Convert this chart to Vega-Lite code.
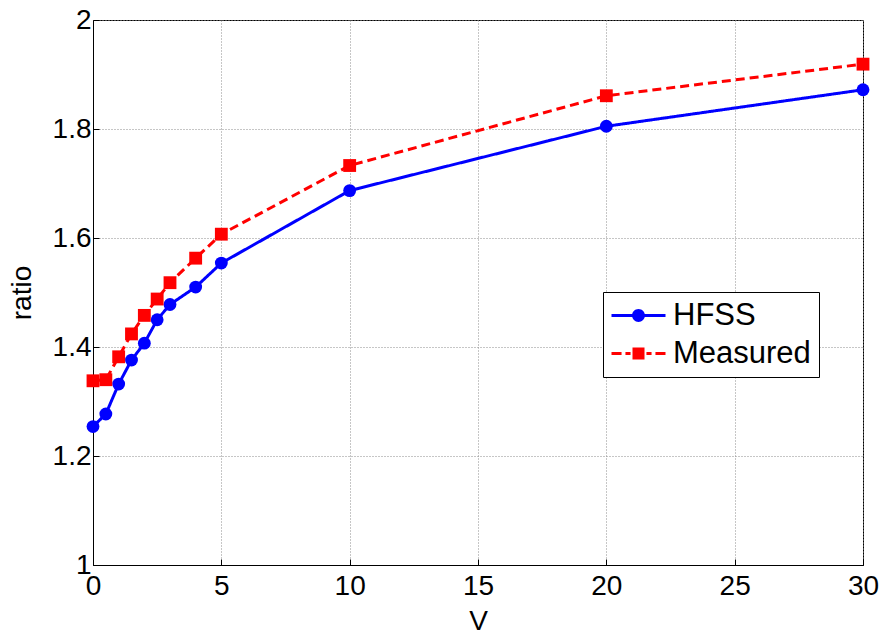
{
  "$schema": "https://vega.github.io/schema/vega-lite/v6.json",
  "autosize": "none",
  "width": 770,
  "height": 545,
  "padding": {"left": 93, "top": 20, "right": 21, "bottom": 71},
  "background": "white",
  "config": {
    "font": "Liberation Sans",
    "view": {"stroke": "black", "strokeWidth": 1},
    "axis": {
      "labelFont": "Liberation Sans",
      "titleFont": "Liberation Sans",
      "labelFontSize": 28,
      "titleFontSize": 28,
      "titleFontWeight": "normal",
      "labelColor": "black",
      "titleColor": "black",
      "domainColor": "black",
      "tickColor": "black",
      "tickSize": -6,
      "labelFlush": false,
      "gridColor": "#8c8c8c",
      "gridDash": [1, 2],
      "gridWidth": 1,
      "gridOpacity": 1
    }
  },
  "data": {
    "values": [
      {"V": 0, "ratio": 1.254, "series": "HFSS"},
      {"V": 0.5, "ratio": 1.277, "series": "HFSS"},
      {"V": 1, "ratio": 1.332, "series": "HFSS"},
      {"V": 1.5, "ratio": 1.376, "series": "HFSS"},
      {"V": 2, "ratio": 1.407, "series": "HFSS"},
      {"V": 2.5, "ratio": 1.45, "series": "HFSS"},
      {"V": 3, "ratio": 1.478, "series": "HFSS"},
      {"V": 4, "ratio": 1.51, "series": "HFSS"},
      {"V": 5, "ratio": 1.554, "series": "HFSS"},
      {"V": 10, "ratio": 1.687, "series": "HFSS"},
      {"V": 20, "ratio": 1.805, "series": "HFSS"},
      {"V": 30, "ratio": 1.872, "series": "HFSS"},
      {"V": 0, "ratio": 1.338, "series": "Measured"},
      {"V": 0.5, "ratio": 1.34, "series": "Measured"},
      {"V": 1, "ratio": 1.382, "series": "Measured"},
      {"V": 1.5, "ratio": 1.424, "series": "Measured"},
      {"V": 2, "ratio": 1.458, "series": "Measured"},
      {"V": 2.5, "ratio": 1.488, "series": "Measured"},
      {"V": 3, "ratio": 1.518, "series": "Measured"},
      {"V": 4, "ratio": 1.563, "series": "Measured"},
      {"V": 5, "ratio": 1.607, "series": "Measured"},
      {"V": 10, "ratio": 1.733, "series": "Measured"},
      {"V": 20, "ratio": 1.861, "series": "Measured"},
      {"V": 30, "ratio": 1.919, "series": "Measured"}
    ]
  },
  "encoding": {
    "x": {
      "field": "V", "type": "quantitative",
      "scale": {"domain": [0, 30], "nice": false},
      "axis": {"values": [0, 5, 10, 15, 20, 25, 30], "title": "V", "titlePadding": 7, "labelPadding": 13, "grid": true, "labelFlush": false}
    },
    "y": {
      "field": "ratio", "type": "quantitative",
      "scale": {"domain": [1, 2], "nice": false, "zero": false},
      "axis": {"values": [1, 1.2, 1.4, 1.6, 1.8, 2], "format": ".1~f", "title": "ratio", "titlePadding": 16, "labelPadding": 8, "grid": true, "labelFlush": false}
    }
  },
  "layer": [
    {
      "mark": {"type": "line", "strokeWidth": 3},
      "encoding": {
        "color": {
          "field": "series", "type": "nominal",
          "scale": {"domain": ["HFSS", "Measured"], "range": ["#0000ff", "#ff0000"]},
          "legend": null
        },
        "strokeDash": {
          "field": "series", "type": "nominal",
          "scale": {"domain": ["HFSS", "Measured"], "range": [[1, 0], [9, 5]]},
          "legend": null
        }
      }
    },
    {
      "mark": {"type": "point", "filled": true, "size": 165, "opacity": 1},
      "encoding": {
        "color": {
          "field": "series", "type": "nominal",
          "scale": {"domain": ["HFSS", "Measured"], "range": ["#0000ff", "#ff0000"]},
          "legend": null
        },
        "shape": {
          "field": "series", "type": "nominal",
          "scale": {"domain": ["HFSS", "Measured"], "range": ["circle", "square"]},
          "legend": null
        }
      }
    },
    {
      "transform": [{"filter": "datum.V < 0"}],
      "mark": {"type": "point", "filled": true, "opacity": 1},
      "encoding": {
        "color": {
          "field": "series", "type": "nominal",
          "scale": {"domain": ["HFSS", "Measured"], "range": ["#0000ff", "#ff0000"]},
          "legend": {
            "orient": "none",
            "legendX": 510,
            "legendY": 272,
            "title": null,
            "symbolSize": 900,
            "symbolStrokeWidth": 0,
            "symbolOffset": 12,
            "labelFont": "Liberation Sans",
            "labelFontSize": 31,
            "labelColor": "black",
            "labelOffset": 19,
            "padding": 8,
            "rowPadding": 6,
            "strokeColor": "black",
            "fillColor": "white",
            "cornerRadius": 0
          }
        },
        "shape": {
          "field": "series", "type": "nominal",
          "scale": {"domain": ["HFSS", "Measured"], "range": [
            "M-1.8,-0.1H1.8V0.1H-1.8Z M0.43,0A0.43,0.43 0 1 1 -0.43,0A0.43,0.43 0 1 1 0.43,0Z",
            "M-1.8,-0.1H-1.13V0.1H-1.8Z M-0.87,-0.1H-0.53V0.1H-0.87Z M-0.4,-0.4H0.4V0.4H-0.4Z M0.53,-0.1H0.87V0.1H0.53Z M1.13,-0.1H1.8V0.1H1.13Z"
          ]},
          "legend": {
            "orient": "none",
            "legendX": 510,
            "legendY": 272,
            "title": null,
            "symbolSize": 900,
            "symbolStrokeWidth": 0,
            "symbolOffset": 12,
            "labelFont": "Liberation Sans",
            "labelFontSize": 31,
            "labelColor": "black",
            "labelOffset": 19,
            "padding": 8,
            "rowPadding": 6,
            "strokeColor": "black",
            "fillColor": "white",
            "cornerRadius": 0
          }
        }
      }
    }
  ],
  "resolve": {"scale": {"shape": "independent", "color": "independent"}}
}
